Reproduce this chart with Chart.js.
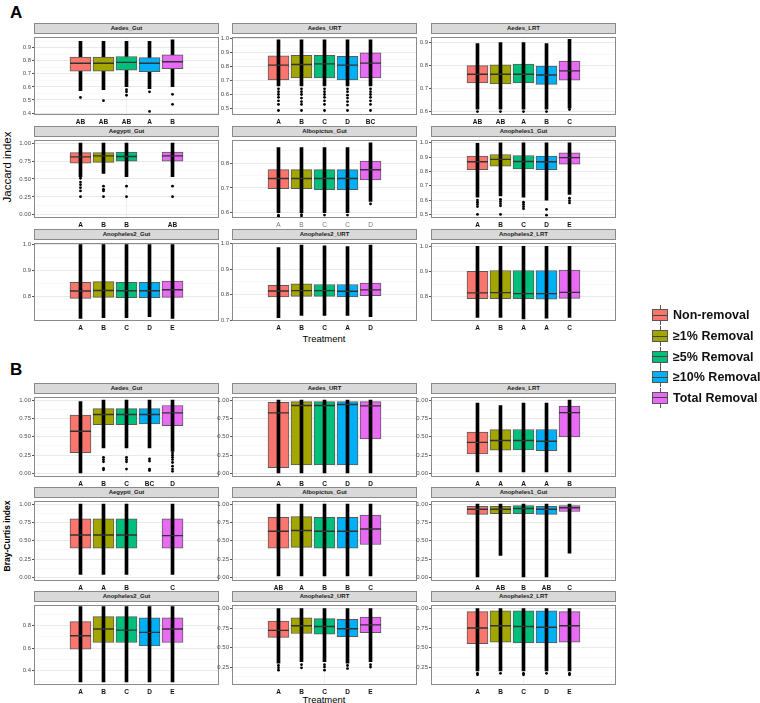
<!DOCTYPE html>
<html><head><meta charset="utf-8">
<script src="https://cdn.jsdelivr.net/npm/chart.js@4.4.1/dist/chart.umd.min.js"></script>
<style>
html,body{margin:0;padding:0;background:#fff}
body{position:relative;width:760px;height:703px;overflow:hidden;font-family:"Liberation Sans",Arial,sans-serif}
.strip{position:absolute;box-sizing:border-box;background:#d9d9d9;border:1px solid #8a8a8a;color:#1a1a1a;font-weight:bold;font-size:6px;line-height:8px;text-align:center;white-space:nowrap}
canvas{position:absolute}
.lbl{position:absolute;white-space:nowrap;color:#000}
.ctr{position:absolute;white-space:nowrap;color:#000;transform:translate(-50%,-50%)}
.rot{position:absolute;white-space:nowrap;color:#000;transform:translate(-50%,-50%) rotate(-90deg)}
.key{position:absolute;width:16px;height:20px}
.key .wh{position:absolute;left:7.5px;top:0;width:1px;height:20px;background:#555}
.key .bx{position:absolute;left:0;top:4px;width:16px;height:12px;box-sizing:border-box;border:1px solid #555}
.key .md{position:absolute;left:0;top:9.5px;width:16px;height:1px;background:#444}
.ltxt{position:absolute;font-weight:bold;font-size:12.5px;line-height:16px;color:#111;white-space:nowrap}
</style></head><body>
<div class="lbl" style="left:10px;top:3px;font-size:17px;font-weight:bold">A</div>
<div class="lbl" style="left:10px;top:360px;font-size:17px;font-weight:bold">B</div>
<div class="rot" style="left:7px;top:167px;font-size:11.5px">Jaccard index</div>
<div class="rot" style="left:7px;top:536px;font-size:8.5px;font-weight:bold">Bray-Curtis index</div>
<div class="ctr" style="left:324px;top:338px;font-size:9.5px">Treatment</div>
<div class="ctr" style="left:324px;top:699px;font-size:9.5px">Treatment</div>
<script>
// ---------- shared ----------
const treatments = ['Non-removal','≥1% Removal','≥5% Removal','≥10% Removal','Total Removal'];
const panelTitles = ['Aedes_Gut','Aedes_URT','Aedes_LRT','Aegypti_Gut','Albopictus_Gut','Anopheles1_Gut','Anopheles2_Gut','Anopheles2_URT','Anopheles2_LRT'];

// ---------- A: Jaccard index ----------
const jacLow = [
 [0.571,0.579,0.602,0.586,0.602],
 [0.66,0.66,0.66,0.66,0.66],
 [0.61,0.61,0.61,0.61,0.615],
 [0.533,0.578,0.533,null,0.533],
 [0.60,0.60,0.60,0.60,0.645],
 [0.62,0.629,0.62,0.60,0.64],
 [0.717,0.72,0.72,0.724,0.717],
 [0.711,0.72,0.72,0.72,0.715],
 [0.717,0.717,0.711,0.714,0.717]];
const jacQ1 = [
 [0.721,0.721,0.729,0.717,0.740],
 [0.703,0.717,0.717,0.703,0.717],
 [0.724,0.720,0.724,0.718,0.737],
 [0.720,0.733,0.747,null,0.747],
 [0.697,0.697,0.693,0.693,0.732],
 [0.813,0.836,0.818,0.813,0.851],
 [0.794,0.798,0.797,0.797,0.798],
 [0.792,0.794,0.794,0.792,0.797],
 [0.792,0.792,0.792,0.790,0.793]];
const jacMed = [
 [0.781,0.781,0.788,0.781,0.793],
 [0.808,0.812,0.817,0.808,0.822],
 [0.762,0.762,0.762,0.759,0.777],
 [0.809,0.822,0.813,null,0.822],
 [0.738,0.738,0.738,0.738,0.774],
 [0.867,0.884,0.869,0.867,0.896],
 [0.822,0.824,0.823,0.823,0.827],
 [0.815,0.816,0.816,0.814,0.819],
 [0.815,0.816,0.812,0.812,0.817]];
const jacQ3 = [
 [0.829,0.829,0.833,0.824,0.845],
 [0.874,0.878,0.878,0.871,0.895],
 [0.800,0.803,0.806,0.798,0.819],
 [0.867,0.867,0.876,null,0.876],
 [0.774,0.774,0.774,0.774,0.809],
 [0.907,0.918,0.911,0.907,0.929],
 [0.855,0.858,0.855,0.855,0.860],
 [0.837,0.843,0.840,0.840,0.846],
 [0.901,0.904,0.904,0.904,0.906]];
const jacHigh = [
 [0.948,0.948,0.948,0.948,0.960],
 [0.987,0.987,0.987,0.987,0.987],
 [0.896,0.900,0.900,0.896,0.914],
 [1.0,1.0,1.0,null,1.0],
 [0.864,0.864,0.864,0.864,0.883],
 [0.996,1.0,1.0,1.0,1.0],
 [1.0,1.0,1.0,1.0,1.0],
 [0.984,0.993,0.990,0.988,0.993],
 [1.0,1.0,1.0,1.0,1.0]];
const jacOutliers = [
 [[1,0.519],[2,0.495],[3,0.579],[3,0.562],[3,0.536],[4,0.562],[4,0.412],[5,0.543],[5,0.467]],
 [[1,0.64],[1,0.62],[1,0.60],[1,0.58],[1,0.555],[1,0.53],[1,0.487],
  [2,0.64],[2,0.62],[2,0.60],[2,0.575],[2,0.55],[2,0.53],[2,0.487],
  [3,0.64],[3,0.62],[3,0.60],[3,0.58],[3,0.555],[3,0.53],[3,0.487],
  [4,0.64],[4,0.62],[4,0.595],[4,0.575],[4,0.55],[4,0.525],[4,0.487],
  [5,0.64],[5,0.62],[5,0.60],[5,0.58],[5,0.555],[5,0.53],[5,0.487]],
 [[1,0.60],[2,0.60],[3,0.60],[4,0.60],[5,0.609]],
 [[1,0.51],[1,0.457],[1,0.42],[1,0.378],[1,0.333],[1,0.253],[2,0.40],[2,0.356],[2,0.333],[2,0.253],[3,0.40],[3,0.253],[5,0.40],[5,0.253]],
 [[1,0.59],[1,0.585],[2,0.592],[2,0.586],[3,0.59],[4,0.59],[5,0.635]],
 [[1,0.60],[1,0.585],[1,0.57],[1,0.555],[1,0.50],[2,0.605],[2,0.59],[2,0.575],[2,0.56],[2,0.50],[3,0.585],[3,0.57],[3,0.555],[3,0.54],[4,0.535],[4,0.495],[5,0.613],[5,0.596],[5,0.58]],
 [],[],[]];
const jacLetters = [
 ['AB','AB','AB','A','B'],['A','B','C','D','BC'],['AB','AB','A','B','C'],
 ['A','B','B','','AB'],['A','B','C','C','D'],['A','B','C','D','E'],
 ['A','B','C','D','E'],['A','B','C','A','D'],['A','B','A','A','C']];

// ---------- B: Bray-Curtis index ----------
const brayLow = [
 [0.009,0.35,0.35,0.35,0.30],
 [0.0,0.0,0.0,0.0,0.0],
 [0.02,0.02,0.02,0.02,0.02],
 [0.04,0.04,0.04,null,0.04],
 [0.02,0.02,0.02,0.02,0.02],
 [0.0,0.30,0.0,0.0,0.33],
 [0.30,0.30,0.30,0.30,0.30],
 [0.30,0.32,0.32,0.30,0.32],
 [0.20,0.20,0.20,0.20,0.20]];
const brayQ1 = [
 [0.283,0.666,0.666,0.674,0.653],
 [0.079,0.118,0.118,0.118,0.47],
 [0.268,0.319,0.32,0.31,0.50],
 [0.40,0.40,0.40,null,0.40],
 [0.40,0.41,0.40,0.40,0.45],
 [0.86,0.87,0.87,0.86,0.90],
 [0.59,0.65,0.65,0.62,0.65],
 [0.63,0.68,0.67,0.64,0.69],
 [0.55,0.57,0.56,0.56,0.57]];
const brayMed = [
 [0.575,0.805,0.805,0.805,0.826],
 [0.826,0.927,0.927,0.94,0.922],
 [0.424,0.45,0.45,0.44,0.83],
 [0.58,0.58,0.58,null,0.57],
 [0.63,0.64,0.63,0.63,0.66],
 [0.93,0.93,0.94,0.93,0.95],
 [0.71,0.77,0.76,0.74,0.77],
 [0.72,0.78,0.77,0.74,0.79],
 [0.75,0.78,0.77,0.76,0.78]];
const brayQ3 = [
 [0.796,0.883,0.883,0.883,0.927],
 [0.97,0.979,0.979,0.979,0.979],
 [0.564,0.598,0.60,0.60,0.92],
 [0.80,0.80,0.80,null,0.80],
 [0.82,0.83,0.82,0.82,0.85],
 [0.97,0.97,0.98,0.97,0.98],
 [0.836,0.88,0.88,0.87,0.87],
 [0.84,0.88,0.87,0.86,0.89],
 [0.96,0.97,0.97,0.97,0.96]];
const brayHigh = [
 [0.979,1.0,1.0,1.0,1.0],
 [1.0,1.0,1.0,1.0,1.0],
 [0.958,0.924,0.96,0.96,1.0],
 [1.0,1.0,1.0,null,1.0],
 [1.0,1.0,1.0,1.0,1.0],
 [1.0,1.0,1.0,1.0,1.0],
 [0.97,0.97,0.97,0.97,0.97],
 [1.0,1.0,1.0,1.0,1.0],
 [1.0,1.0,1.0,1.0,1.0]];
const brayOutliers = [
 [[2,0.22],[2,0.19],[2,0.16],[2,0.07],[2,0.05],[3,0.22],[3,0.19],[3,0.16],[3,0.06],[4,0.20],[4,0.17],[4,0.06],[4,0.04],
  [5,0.28],[5,0.25],[5,0.22],[5,0.19],[5,0.15],[5,0.10],[5,0.06],[5,0.03]],
 [],[],[],[],[],[],
 [[1,0.27],[1,0.24],[1,0.21],[2,0.28],[2,0.24],[3,0.28],[3,0.25],[3,0.21],[4,0.27],[4,0.23],[5,0.28],[5,0.25]],
 [[1,0.17],[1,0.15],[2,0.17],[3,0.17],[3,0.15],[4,0.17],[5,0.17],[5,0.15]]];
const brayLetters = [
 ['A','B','C','BC','D'],['A','B','C','D','D'],['A','A','A','A','B'],
 ['A','A','B','','C'],['AB','A','B','B','C'],['A','AB','B','AB','C'],
 ['A','B','C','D','E'],['A','B','C','D','E'],['A','B','C','D','E']];

// ---------- axis settings ----------
const jacYRange = [[0.385,0.985],[0.455,1.01],[0.585,0.926],[-0.045,1.05],[0.578,0.896],[0.475,1.022],[0.707,1.008],[0.698,1.003],[0.703,1.015]];
const jacYStep  = [0.1,0.1,0.1,0.25,0.1,0.1,0.1,0.1,0.1];
const brayYRange = [[-0.048,1.048],[-0.048,1.048],[-0.048,1.048],[-0.048,1.048],[-0.048,1.048],[-0.048,1.048],[0.272,0.987],[0.02,1.05],[0.02,1.05]];
const brayYStep  = [0.25,0.25,0.25,0.25,0.25,0.25,0.2,0.25,0.25];

// ---------- styles / layout ----------
const boxColors = ['#F8766D','#A3A500','#00BF7D','#00B0F6','#E76BF3'];
const colX = [34, 232, 431];
const panelW = 185;
const Y_AXIS_W = 25, X_AXIS_H = 13;

Chart.defaults.font.family = '"Liberation Sans", Arial, sans-serif';

const framePlugin = {
  id: 'frame',
  afterDraw(chart) {
    const {ctx, chartArea: a} = chart;
    ctx.save();
    ctx.strokeStyle = '#8a8a8a'; ctx.lineWidth = 1;
    ctx.strokeRect(Math.round(a.left) + 0.5, Math.round(a.top) + 0.5, Math.round(a.width) - 1, Math.round(a.height) - 1);
    ctx.restore();
  }
};

function buildPanel(set, i, left, stripTop, plotH) {
  const plotTop = stripTop + 10;
  const s = document.createElement('div');
  s.className = 'strip';
  s.style.left = left + 'px'; s.style.top = stripTop + 'px';
  s.style.width = panelW + 'px'; s.style.height = '11px';
  s.textContent = panelTitles[i];
  document.body.appendChild(s);

  const cv = document.createElement('canvas');
  cv.width = Y_AXIS_W + panelW + 1;
  cv.height = 1 + plotH + X_AXIS_H;
  cv.style.left = (left - Y_AXIS_W) + 'px';
  cv.style.top = (plotTop - 1) + 'px';
  document.body.appendChild(cv);

  const boxes = [], whisk = [], meds = [];
  for (let k = 0; k < 5; k++) {
    if (set.q1[i][k] == null) continue;
    boxes.push({x: k + 1, y: [set.q1[i][k], set.q3[i][k]]});
    whisk.push({x: k + 1, y: [set.lo[i][k], set.hi[i][k]]});
    meds.push({x: k + 1, y: set.med[i][k]});
  }
  const outs = set.out[i].map(p => ({x: p[0], y: p[1]}));
  const boxOnTop = set.boxOnTop.includes(i);
  const light = set.lightLetters.includes(i);
  const [ymin, ymax] = set.range[i];
  const step = set.step[i];
  const dec = step === 0.25 ? 2 : 1;
  const letters = set.letters[i];

  new Chart(cv, {
    type: 'bar',
    data: {
      datasets: [
        {type: 'bar', data: boxes, grouped: false, barThickness: 21, order: boxOnTop ? 2 : 3,
         backgroundColor: c => boxColors[(c.raw ? c.raw.x : 1) - 1], borderColor: '#5a5a5a', borderWidth: 1, borderSkipped: false},
        {type: 'bar', data: whisk, grouped: false, barThickness: 3, order: boxOnTop ? 3 : 2,
         backgroundColor: '#000', borderWidth: 0},
        {type: 'line', data: meds, showLine: false, order: 1, pointStyle: 'line', pointRadius: 10.5, pointHoverRadius: 10.5,
         pointBorderWidth: 1.4, borderColor: '#333', pointBorderColor: '#333'},
        {type: 'line', data: outs, showLine: false, order: 0, pointStyle: 'circle', pointRadius: 1.4, pointHoverRadius: 1.4,
         pointBackgroundColor: '#000', pointBorderWidth: 0}
      ]
    },
    options: {
      responsive: false, animation: false, events: [],
      layout: {padding: {top: 1, right: 1, left: 0, bottom: 0}, autoPadding: false},
      plugins: {legend: {display: false}, tooltip: {enabled: false}},
      scales: {
        x: {
          type: 'linear', min: -1.02, max: 7.02, offset: false,
          afterBuildTicks: sc => { sc.ticks = [1, 2, 3, 4, 5].map(v => ({value: v})); },
          afterFit: sc => { sc.height = X_AXIS_H; },
          ticks: {autoSkip: false, maxRotation: 0, padding: 3,
                  font: {size: 6.5, weight: light ? 'normal' : 'bold'}, color: light ? '#777' : '#111',
                  callback: v => letters[Math.round(v) - 1] || ''},
          grid: {drawTicks: false, lineWidth: 0.8, offset: false,
                 color: c => (c.tick && c.tick.value === 3) ? '#ebebeb' : 'rgba(0,0,0,0)'},
          border: {display: false}
        },
        y: {
          type: 'linear', min: ymin, max: ymax,
          afterBuildTicks: sc => {
            const half = step / 2, t = [];
            for (let k = Math.ceil(sc.min / half - 1e-9); k * half <= sc.max + 1e-9; k++) {
              t.push({value: +(k * half).toFixed(4), mj: k % 2 === 0});
            }
            sc.ticks = t;
          },
          afterFit: sc => { sc.width = Y_AXIS_W; },
          ticks: {autoSkip: false, padding: 1, font: {size: 6}, color: '#4d4d4d',
                  callback: function (v, idx, ticks) { return ticks[idx] && ticks[idx].mj ? v.toFixed(dec) : ''; }},
          grid: {drawTicks: true, tickLength: 2,
                 tickColor: c => (c.tick && c.tick.mj) ? '#444' : 'rgba(0,0,0,0)',
                 color: c => (c.tick && c.tick.mj) ? '#e6e6e6' : '#f3f3f3',
                 lineWidth: c => (c.tick && c.tick.mj) ? 0.9 : 0.6},
          border: {display: false}
        }
      }
    },
    plugins: [framePlugin]
  });
}

const jacSet = {lo: jacLow, q1: jacQ1, med: jacMed, q3: jacQ3, hi: jacHigh, out: jacOutliers, letters: jacLetters,
  range: jacYRange, step: jacYStep, boxOnTop: [0], lightLetters: [4]};
const braySet = {lo: brayLow, q1: brayQ1, med: brayMed, q3: brayQ3, hi: brayHigh, out: brayOutliers, letters: brayLetters,
  range: brayYRange, step: brayYStep, boxOnTop: [], lightLetters: []};

const jacRows = [23, 126, 229], brayRows = [383, 487, 591];
for (let i = 0; i < 9; i++) {
  buildPanel(jacSet, i, colX[i % 3], jacRows[Math.floor(i / 3)], 82);
  buildPanel(braySet, i, colX[i % 3], brayRows[Math.floor(i / 3)], 84);
}

// ---------- legend ----------
const legendY = [315, 336, 356.5, 377, 397.5];
treatments.forEach((name, k) => {
  const key = document.createElement('div');
  key.className = 'key';
  key.style.left = '652px'; key.style.top = (legendY[k] - 10) + 'px';
  key.innerHTML = '<div class="wh"></div><div class="bx" style="background:' + boxColors[k] + '"></div><div class="md"></div>';
  document.body.appendChild(key);
  const t = document.createElement('div');
  t.className = 'ltxt';
  t.style.left = '673px'; t.style.top = (legendY[k] - 8) + 'px';
  t.textContent = name;
  document.body.appendChild(t);
});
</script>
</body></html>
